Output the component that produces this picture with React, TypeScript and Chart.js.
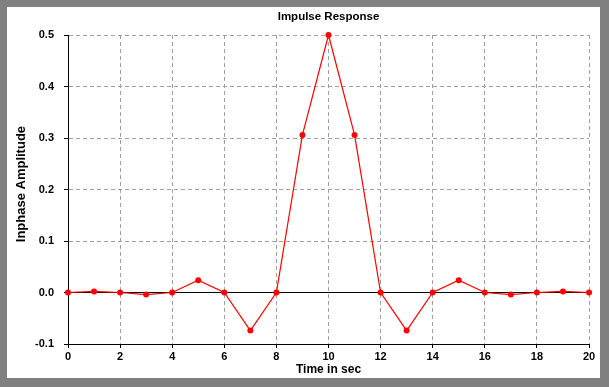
import React, { useEffect, useRef } from "react";
import { Chart, registerables } from "chart.js";

Chart.register(...registerables);

const times = [0, 1, 2, 3, 4, 5, 6, 7, 8, 9, 10, 11, 12, 13, 14, 15, 16, 17, 18, 19, 20];
const amplitudes = [0, 0.002, 0, -0.004, 0, 0.024, 0, -0.074, 0, 0.306, 0.5, 0.306, 0, -0.074, 0, 0.024, 0, -0.004, 0, 0.002, 0];
const chartTitle = "Impulse Response";
const xTitle = "Time in sec";
const yTitle = "Inphase Amplitude";

const FONT = "'Liberation Sans', Arial, Helvetica, sans-serif";

export default function App() {
  const ref = useRef<HTMLCanvasElement | null>(null);

  useEffect(() => {
    if (!ref.current) return;
    const isZero = (c: any) => c && c.tick && Math.abs(c.tick.value) < 1e-9;
    const chart = new Chart(ref.current, {
      type: "line",
      data: {
        datasets: [
          {
            data: times.map((t, i) => ({ x: t, y: amplitudes[i] })),
            borderColor: "#ff0000",
            backgroundColor: "#ff0000",
            borderWidth: 1.2,
            pointRadius: 3,
            pointBorderWidth: 0,
            pointBackgroundColor: "#ff0000",
            tension: 0,
            clip: false,
          } as any,
        ],
      },
      options: {
        animation: false,
        responsive: false,
        layout: { padding: { left: 0, right: 11, top: 0, bottom: 0 } },
        plugins: {
          legend: { display: false },
          tooltip: { enabled: false },
          title: {
            display: true,
            text: chartTitle,
            fullSize: false,
            color: "#000",
            font: { family: FONT, size: 11.5, weight: "bold" },
            padding: { top: 3, bottom: 11.2 },
          },
        },
        scales: {
          x: {
            type: "linear",
            min: 0,
            max: 20,
            afterFit: (s: any) => {
              s.height = 34;
            },
            ticks: {
              stepSize: 2,
              color: "#000",
              padding: 2,
              maxRotation: 0,
              font: { family: FONT, size: 11, weight: "bold" },
            },
            grid: {
              color: (c: any) => (isZero(c) ? "#000" : "#a0a0a0"),
              lineWidth: 1,
              tickColor: "#000",
              tickLength: 4,
            },
            border: {
              display: true,
              color: "#000",
              width: 1,
              dash: (c: any) => (isZero(c) ? [] : [4, 3]),
            } as any,
            title: {
              display: true,
              text: xTitle,
              color: "#000",
              font: { family: FONT, size: 12, weight: "bold" },
              padding: { top: 0, bottom: 1 },
            },
          },
          y: {
            type: "linear",
            min: -0.1,
            max: 0.5,
            afterFit: (s: any) => {
              s.width = 61;
            },
            ticks: {
              stepSize: 0.1,
              color: "#000",
              padding: 10,
              font: { family: FONT, size: 11, weight: "bold" },
              callback: (v: any) => (Math.abs(Number(v)) < 1e-9 ? "0.0" : Number(v).toFixed(1)),
            },
            grid: {
              color: (c: any) => (isZero(c) ? "#000" : "#a0a0a0"),
              lineWidth: 1,
              tickColor: "#000",
              tickLength: 4,
            },
            border: {
              display: true,
              color: "#000",
              width: 1,
              dash: (c: any) => (isZero(c) ? [] : [4, 3]),
            } as any,
            title: {
              display: true,
              text: "   " + yTitle,
              color: "#000",
              font: { family: FONT, size: 13, weight: "bold" },
              padding: { top: 7, bottom: 0 },
            },
          },
        },
      },
    });
    return () => chart.destroy();
  }, []);

  return (
    <div
      style={{
        position: "absolute",
        left: 0,
        top: 0,
        width: 609,
        height: 387,
        background: "#808080",
      }}
    >
      <div
        style={{
          position: "absolute",
          left: 7,
          top: 7,
          width: 593,
          height: 371,
          background: "#ffffff",
        }}
      >
        <canvas ref={ref} width={593} height={371} style={{ display: "block" }} />
      </div>
    </div>
  );
}
